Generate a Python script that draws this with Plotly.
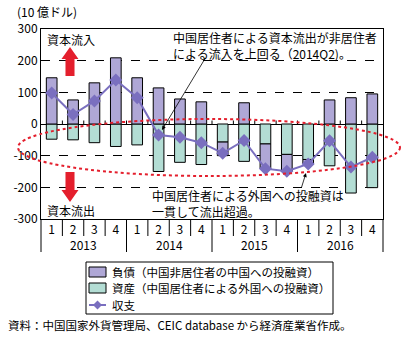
import plotly.graph_objects as go

# Quarterly capital flows, billions of USD
year_labels = ["2013", "2014", "2015", "2016"]
quarter_labels = ["1", "2", "3", "4"]
years = [y for y in year_labels for _ in quarter_labels]
quarters = quarter_labels * len(year_labels)
liabilities = [146, 76, 130, 209, 146, 114, 79, 70, -43, 67, -78, -53, -14, 76, 83, 95]
assets = [-48, -50, -59, -71, -66, -150, -121, -128, -57, -118, -63, -96, -112, -132, -218, -201]
balance = [98, 30, 73, 139, 83, -35, -42, -59, -92, -52, -141, -149, -126, -53, -136, -105]

y_ticks = [300, 200, 100, 0, -100, -200, -300]
y_ticktext = ["300", "200", "100", "0", "-100", "-200", "-300"]

NAME_LIAB = "負債（中国非居住者の中国への投融資）"
NAME_ASSET = "資産（中国居住者による外国への投融資）"
NAME_BAL = "収支"

FONT = "Noto Sans CJK JP"
PURPLE = "#afa7d6"
TEAL = "#b3ddd4"
LINE = "#7a6fbf"
RED = "#e41f2d"

W, H = 406, 337
L, R, T, B = 41, 23, 29, 118
PW, PH = W - L - R, H - T - B


def px(x):
    return (x - L) / PW


def py(y):
    return (H - B - y) / PH


x_keys = [f"{y}Q{q}" for y, q in zip(years, quarters)]
n = len(x_keys)

fig = go.Figure()
fig.add_trace(go.Bar(
    x=x_keys, y=assets, name=NAME_ASSET,
    marker=dict(color=TEAL, line=dict(color="black", width=1)),
    width=0.5,
))
fig.add_trace(go.Bar(
    x=x_keys, y=liabilities, name=NAME_LIAB,
    marker=dict(color=PURPLE, line=dict(color="black", width=1)),
    width=0.5,
))
fig.add_trace(go.Scatter(
    x=x_keys, y=balance, name=NAME_BAL, mode="lines+markers",
    line=dict(color=LINE, width=2),
    marker=dict(symbol="diamond", size=10, color=LINE),
))

shapes = []
# small tick marks along the zero line, and quarter separators below the axis
for i in range(1, n):
    shapes.append(dict(type="line", xref="paper", yref="y", x0=i / n, x1=i / n,
                       y0=0, y1=11, line=dict(color="black", width=1)))
    if i % 4:
        shapes.append(dict(type="line", xref="paper", yref="paper", x0=i / n, x1=i / n,
                           y0=py(219), y1=py(236), line=dict(color="black", width=1)))
# year dividers
for k in range(len(year_labels) + 1):
    xf = k / len(year_labels)
    shapes.append(dict(type="line", xref="paper", yref="paper", x0=xf, x1=xf,
                       y0=py(219), y1=py(252), line=dict(color="black", width=1)))

# dashed red ellipse around the outflow region
shapes.append(dict(type="circle", xref="paper", yref="paper",
                   x0=px(18), x1=px(400), y0=py(176), y1=py(119),
                   line=dict(color=RED, width=2, dash="dot"), layer="above"))


def to_path(pts):
    return "M " + " L ".join(f"{px(a):.4f},{py(b):.4f}" for a, b in pts) + " Z"


def arrow_path(cx, tail, tip, shaft_w, head_w, head_len):
    d = 1 if tip < tail else -1
    neck = tip + d * head_len
    return to_path([
        (cx - shaft_w / 2, tail), (cx - shaft_w / 2, neck), (cx - head_w / 2, neck),
        (cx, tip), (cx + head_w / 2, neck), (cx + shaft_w / 2, neck),
        (cx + shaft_w / 2, tail),
    ])


shapes.append(dict(type="path", xref="paper", yref="paper",
                   path=arrow_path(70, 76, 47, 9, 17, 12),
                   fillcolor=RED, line=dict(width=0)))
shapes.append(dict(type="path", xref="paper", yref="paper",
                   path=arrow_path(70, 172, 202, 9, 17, 12),
                   fillcolor=RED, line=dict(width=0)))

# legend box drawn below the plot
LG_X0, LG_X1, LG_Y0, LG_Y1 = 86, 333, 262, 314
shapes.append(dict(type="rect", xref="paper", yref="paper",
                   x0=px(LG_X0), x1=px(LG_X1), y0=py(LG_Y1), y1=py(LG_Y0),
                   line=dict(color="black", width=1), fillcolor="white"))
legend_rows = [(NAME_LIAB, PURPLE, 272), (NAME_ASSET, TEAL, 288)]
for _, color, yc in legend_rows:
    shapes.append(dict(type="rect", xref="paper", yref="paper",
                       x0=px(89), x1=px(106), y0=py(yc + 5), y1=py(yc - 5),
                       line=dict(color="black", width=1), fillcolor=color))
shapes.append(dict(type="line", xref="paper", yref="paper",
                   x0=px(89), x1=px(106), y0=py(305), y1=py(305),
                   line=dict(color=LINE, width=2)))
shapes.append(dict(type="path", xref="paper", yref="paper",
                   path=to_path([(97.5, 300.5), (102, 305), (97.5, 309.5), (93, 305)]),
                   fillcolor=LINE, line=dict(width=0)))

annotations = [
    dict(text="(10 億ドル)", xref="paper", yref="paper", x=px(15), y=py(12),
         xanchor="left", yanchor="middle", showarrow=False, font=dict(size=12)),
    dict(text="資本流入", xref="paper", yref="paper", x=px(45), y=py(40),
         xanchor="left", yanchor="middle", showarrow=False, font=dict(size=12)),
    dict(text="資本流出", xref="paper", yref="paper", x=px(45), y=py(210),
         xanchor="left", yanchor="middle", showarrow=False, font=dict(size=12)),
    dict(text="中国居住者による資本流出が非居住者<br>による流入を上回る（2014Q2)。",
         xref="paper", yref="paper", x=px(171), y=py(45), xanchor="left", yanchor="middle",
         align="left", showarrow=False, font=dict(size=12)),
    dict(text="中国居住者による外国への投融資は<br>一貫して流出超過。",
         xref="paper", yref="paper", x=px(150), y=py(203), xanchor="left", yanchor="middle",
         align="left", showarrow=False, font=dict(size=12)),
    dict(text="", xref="paper", yref="paper", x=px(162), y=py(130),
         ax=44, ay=-73, showarrow=True, arrowhead=2, arrowsize=1, arrowwidth=0.8,
         arrowcolor="black"),
    dict(text="", xref="paper", yref="paper", x=px(306), y=py(173),
         ax=-5, ay=16, showarrow=True, arrowhead=2, arrowsize=1, arrowwidth=0.8,
         arrowcolor="black"),
    dict(text="資料：中国国家外貨管理局、CEIC database から経済産業省作成。",
         xref="paper", yref="paper", x=px(6), y=py(325), xanchor="left", yanchor="middle",
         showarrow=False, font=dict(size=11.5)),
]
for name, _, yc in legend_rows + [(NAME_BAL, None, 305)]:
    annotations.append(dict(text=name, xref="paper", yref="paper", x=px(110), y=py(yc),
                            xanchor="left", yanchor="middle", showarrow=False,
                            font=dict(size=11.5)))
# year labels centred under each group of four quarters
for k, yl in enumerate(year_labels):
    annotations.append(dict(text=yl, xref="paper", yref="paper",
                            x=(k + 0.5) / len(year_labels), y=py(244),
                            xanchor="center", yanchor="middle", showarrow=False,
                            font=dict(size=12)))

fig.update_layout(
    width=W, height=H,
    margin=dict(l=L, r=R, t=T, b=B, pad=0, autoexpand=False),
    paper_bgcolor="white", plot_bgcolor="white",
    font=dict(family=FONT, size=12, color="black"),
    barmode="relative",
    showlegend=False,
    shapes=shapes,
    annotations=annotations,
)

fig.update_xaxes(
    type="category", automargin=False, range=[-0.5, n - 0.5],
    tickmode="array", tickvals=x_keys, ticktext=quarters,
    showline=True, linecolor="black", linewidth=1, mirror=True,
    ticks="", showgrid=False, tickfont=dict(family=FONT, size=12),
)
fig.update_yaxes(
    range=[-300, 300], tickvals=y_ticks, ticktext=y_ticktext, automargin=False,
    showline=True, linecolor="black", linewidth=1, mirror=True,
    showgrid=True, gridcolor="black", gridwidth=1, griddash="dash",
    zeroline=True, zerolinecolor="black", zerolinewidth=1,
    ticks="", tickfont=dict(family=FONT, size=12),
)

fig.write_html("out.html")
